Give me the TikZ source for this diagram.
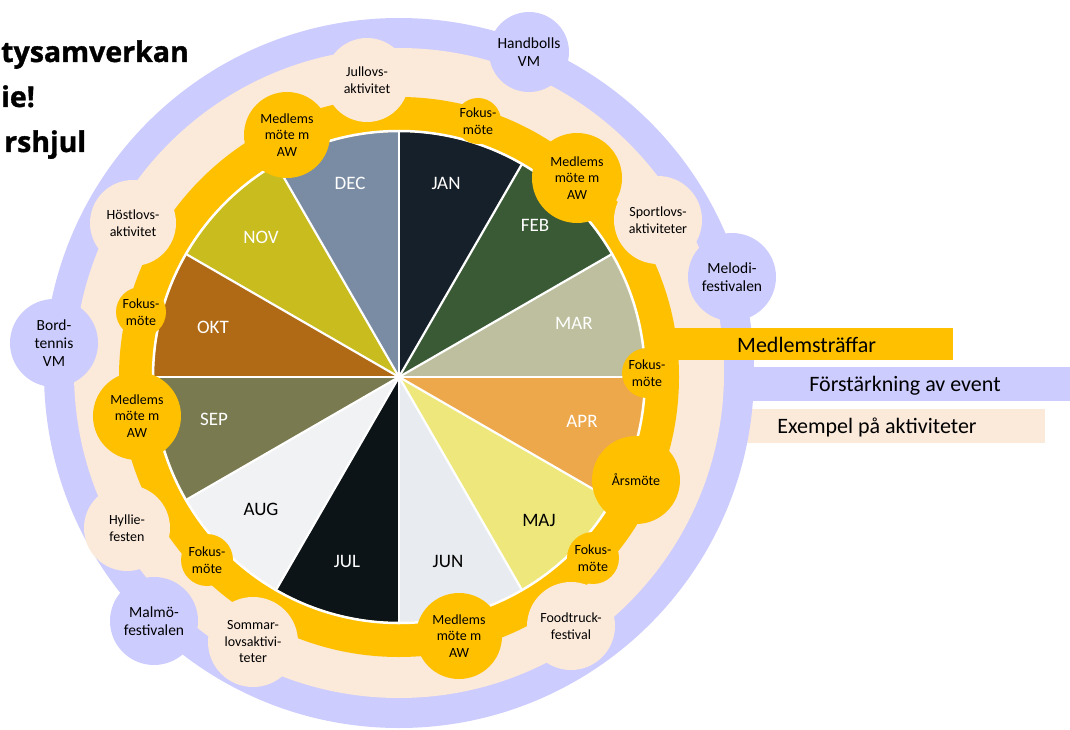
\documentclass[tikz,border=0pt]{standalone}
\usepackage{fontspec}
\setmainfont{Carlito}
\newfontfamily\titlefont{Open Sans}[FakeBold=1.2]
\definecolor{gold}{HTML}{FFC000}
\definecolor{peach}{HTML}{FBE9DA}
\definecolor{lav}{HTML}{CCCCFF}
\definecolor{cJAN}{HTML}{16202A}
\definecolor{cFEB}{HTML}{3A5A36}
\definecolor{cMAR}{HTML}{BDBF9F}
\definecolor{cAPR}{HTML}{EDA84C}
\definecolor{cMAJ}{HTML}{EEE87C}
\definecolor{cJUN}{HTML}{E8EBF0}
\definecolor{cJUL}{HTML}{0C1418}
\definecolor{cAUG}{HTML}{F1F2F4}
\definecolor{cSEP}{HTML}{7A7A50}
\definecolor{cOKT}{HTML}{B06A16}
\definecolor{cNOV}{HTML}{C8BC1E}
\definecolor{cDEC}{HTML}{7A8CA4}
\tikzset{
  bub/.style={circle, minimum size=#1, inner sep=0pt, align=center, text=black,
    font=\fontsize{14}{16.5}\selectfont},
  ybub/.style={bub=#1, fill=gold},
  pbub/.style={bub=#1, fill=peach},
  lbub/.style={bub=#1, fill=lav, font=\fontsize{15.5}{18}\selectfont},
  mlab/.style={font=\fontsize{19}{20}\selectfont, inner sep=0pt},
  legtext/.style={font=\fontsize{22}{24}\selectfont, inner sep=0pt, anchor=base},
  titletext/.style={font=\titlefont\bfseries\fontsize{28.5}{30}\selectfont, anchor=base west, inner sep=0pt}
}
\begin{document}
\begin{tikzpicture}[x=1pt,y=-1pt]
\useasboundingbox (0,0) rectangle (1070,730);
\coordinate (C) at (399,377);
\coordinate (R) at (399,373);
% legend bars behind the wheel
\fill[lav] (720,367) rectangle (1070,401);
\fill[peach] (720,409) rectangle (1045,443);
% outer rings
\fill[lav] (R) circle (355);
\fill[peach] (R) circle (325);
% lavender bubbles
\node[lbub=80] (hvm) at (529,52) {Handbolls\\VM};
\node[lbub=88] (mel) at (732,277) {Melodi-\\festivalen};
\node[lbub=88] (bord) at (54,343) {Bord-\\tennis\\VM};
\node[lbub=88] (malmo) at (154,621) {Malmö-\\festivalen};
% gold ring
\fill[gold] (C) circle (280);
% peach bubbles
\node[pbub=84] (jul) at (367,80) {Jullovs-\\aktivitet};
\node[pbub=88] (sport) at (658,220) {Sportlovs-\\aktiviteter};
\node[pbub=86] (host) at (133,223) {Höstlovs-\\aktivitet};
\node[pbub=86] (hyl) at (127,528) {Hyllie-\\festen};
\node[pbub=90] (som) at (253,642) {Sommar-\\lovsaktivi-\\teter};
\node[pbub=88] (food) at (571,626) {Foodtruck-\\festival};
% yellow legend bar over the rings
\fill[gold] (660,328) rectangle (953,360);
% pie
\foreach \i/\c in {0/cJAN,1/cFEB,2/cMAR,3/cAPR,4/cMAJ,5/cJUN,6/cJUL,7/cAUG,8/cSEP,9/cOKT,10/cNOV,11/cDEC}{
  \pgfmathsetmacro{\aa}{30*\i-90}
  \pgfmathsetmacro{\ab}{30*\i-60}
  \fill[\c] (C) -- ++(\aa:245) arc[start angle=\aa, end angle=\ab, radius=245] -- cycle;
}
\foreach \a in {0,30,...,330}{
  \draw[white, line width=2.2] (C) -- ++(\a:245);
}
\draw[white, line width=2.5] (C) circle (246);
% month labels
\node[mlab, text=white] (mjan) at (446,183) {JAN};
\node[mlab, text=white] (mfeb) at (535,225) {FEB};
\node[mlab, text=white] (mmar) at (574,323) {MAR};
\node[mlab, text=white] (mapr) at (582,421) {APR};
\node[mlab, text=black] (mmaj) at (539,520) {MAJ};
\node[mlab, text=black] (mjun) at (448,561) {JUN};
\node[mlab, text=white] (mjul) at (347,561) {JUL};
\node[mlab, text=black] (maug) at (261,509) {AUG};
\node[mlab, text=white] (msep) at (214,419) {SEP};
\node[mlab, text=white] (mokt) at (213,327) {OKT};
\node[mlab, text=white] (mnov) at (261,237) {NOV};
\node[mlab, text=white] (mdec) at (350,183) {DEC};
% yellow bubbles
\node[ybub=86] (m1) at (287,135) {Medlems\\möte m\\AW};
\node[ybub=46] (f1) at (478,121) {Fokus-\\möte};
\node[ybub=90] (m2) at (577,178) {Medlems\\möte m\\AW};
\node[ybub=50] (f2) at (647,373) {Fokus-\\möte};
\node[ybub=88] (ars) at (636,480) {Årsmöte};
\node[ybub=52] (f3) at (593,558) {Fokus-\\möte};
\node[ybub=86] (m3) at (459,636) {Medlems\\möte m\\AW};
\node[ybub=52] (f4) at (207,560) {Fokus-\\möte};
\node[ybub=88] (m4) at (137,416) {Medlems\\möte m\\AW};
\node[ybub=50] (f5) at (141,312) {Fokus-\\möte};
% legend texts
\node[legtext, anchor=base west] (lg1) at (737,352) {Medlemsträffar};
\node[legtext] (lg2) at (905,391) {Förstärkning av event};
\node[legtext] (lg3) at (877,433) {Exempel på aktiviteter};
% title fragments
\node[titletext] (t1) at (1,62) {tysamverkan};
\node[titletext] (t2) at (1,107) {ie!};
\node[titletext] (t3) at (4,152) {rshjul};
\end{tikzpicture}
\end{document}
